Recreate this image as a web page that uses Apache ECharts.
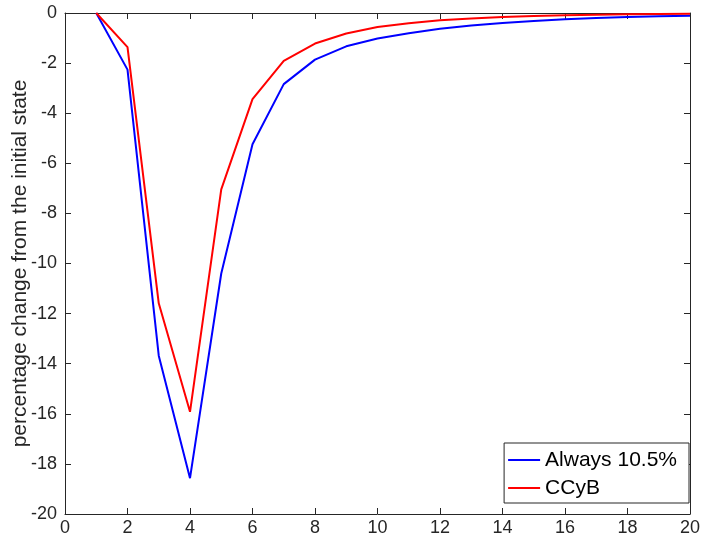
<!DOCTYPE html>
<html style="height: 100%">
<head>
<meta charset="utf-8">
</head>
<body style="height: 100%; margin: 0; background: #fff">
<div id="container" style="width: 702px; height: 542px"></div>
<script src="https://cdn.jsdelivr.net/npm/echarts@6/dist/echarts.min.js"></script>
<script type="text/javascript">

// periods after the shock
var periods = [1, 2, 3, 4, 5, 6, 7, 8, 9, 10, 11, 12, 13, 14, 15, 16, 17, 18, 19, 20];

// percentage change from the initial state
var always105 = [0, -2.26, -13.68, -18.57, -10.4, -5.24, -2.84, -1.86, -1.33, -1.02,
                 -0.81, -0.63, -0.5, -0.4, -0.32, -0.25, -0.2, -0.16, -0.13, -0.11];
var ccyb = [0, -1.36, -11.59, -15.92, -7.04, -3.44, -1.91, -1.22, -0.82, -0.56,
            -0.41, -0.29, -0.22, -0.16, -0.12, -0.09, -0.07, -0.05, -0.04, -0.03];

var seriesNames = ['Always 10.5%', 'CCyB'];
var xTicks = {min: 0, max: 20, interval: 2};
var yTicks = {min: -20, max: 0, interval: 2};

function pairs(xs, ys) {
    var out = [];
    for (var i = 0; i < xs.length; i++) {
        out.push([xs[i], ys[i]]);
    }
    return out;
}

var axisColor = '#262626';
var fontFamily = "'Liberation Sans', Arial, sans-serif";

function baseAxis(extra) {
    var ax = {
        type: 'value',
        axisLine: {show: true, onZero: false, lineStyle: {color: axisColor, width: 1}},
        axisTick: {show: true, inside: true, length: 6, lineStyle: {color: axisColor}},
        axisLabel: {color: axisColor, fontSize: 18, fontFamily: fontFamily},
        splitLine: {show: false}
    };
    for (var k in extra) ax[k] = extra[k];
    return ax;
}

var dom = document.getElementById('container');
var myChart = echarts.init(dom, null, {renderer: 'canvas'});

var option = {
    animation: false,
    backgroundColor: '#fff',
    grid: {
        left: 65,
        right: 12,
        top: 13,
        bottom: 28,
        containLabel: false,
        outerBoundsMode: 'none'
    },
    legend: {
        data: seriesNames,
        orient: 'vertical',
        right: 13,
        bottom: 39,
        backgroundColor: '#fff',
        borderColor: axisColor,
        borderWidth: 1,
        borderRadius: 0,
        padding: [5, 12, 3, 4],
        itemGap: 4,
        itemWidth: 32,
        itemHeight: 2,
        icon: 'rect',
        textStyle: {color: '#000', fontSize: 21, lineHeight: 24, fontFamily: fontFamily}
    },
    xAxis: [
        baseAxis({min: xTicks.min, max: xTicks.max, interval: xTicks.interval, position: 'bottom',
                  axisLabel: {color: axisColor, fontSize: 18, fontFamily: fontFamily, margin: 5}}),
        baseAxis({min: xTicks.min, max: xTicks.max, interval: xTicks.interval, position: 'top',
                  axisLabel: {show: false}})
    ],
    yAxis: [
        baseAxis({min: yTicks.min, max: yTicks.max, interval: yTicks.interval, position: 'left',
                  name: 'percentage change from the initial state',
                  nameLocation: 'middle',
                  nameGap: 34,
                  nameMoveOverlap: false,
                  nameTextStyle: {color: axisColor, fontSize: 21, fontFamily: fontFamily},
                  axisLabel: {color: axisColor, fontSize: 18, fontFamily: fontFamily, margin: 8}}),
        baseAxis({min: yTicks.min, max: yTicks.max, interval: yTicks.interval, position: 'right',
                  axisLabel: {show: false}})
    ],
    series: [
        {
            name: seriesNames[0],
            type: 'line',
            data: pairs(periods, always105),
            showSymbol: false,
            color: '#0000ff',
            lineStyle: {color: '#0000ff', width: 2}
        },
        {
            name: seriesNames[1],
            type: 'line',
            data: pairs(periods, ccyb),
            showSymbol: false,
            color: '#ff0000',
            lineStyle: {color: '#ff0000', width: 2}
        }
    ]
};

myChart.setOption(option);

</script>
</body>
</html>
